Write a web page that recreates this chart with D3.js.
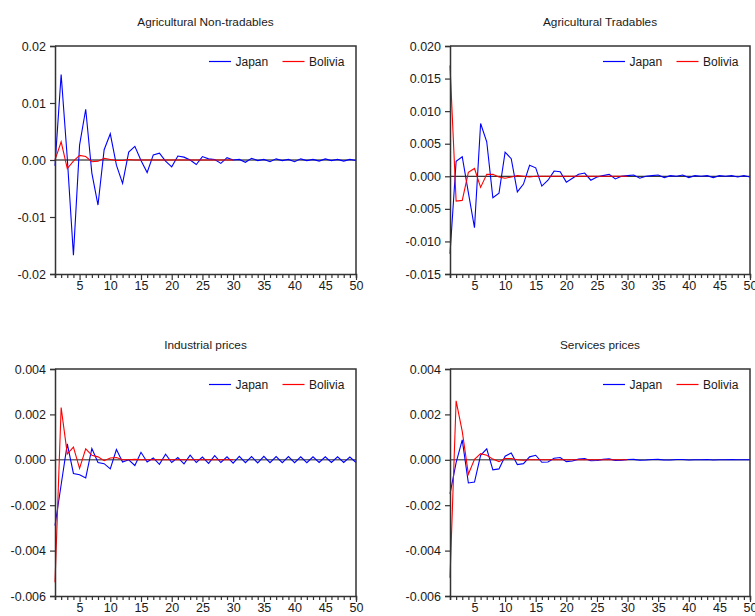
<!DOCTYPE html>
<html>
<head>
<meta charset="utf-8">
<script src="https://cdn.jsdelivr.net/npm/d3@7"></script>
<style>
  html, body { margin: 0; padding: 0; background: #fff; }
  svg { display: block; font-family: "Liberation Sans", Arial, sans-serif; }
</style>
</head>
<body>
<svg id="chart" width="755" height="616"></svg>
<script>
// ---------- data ----------
const seriesNames = ["Japan", "Bolivia"];
const panelTitles = ["Agricultural Non-tradables", "Agricultural Tradables", "Industrial prices", "Services prices"];
const xTickLabels = [5, 10, 15, 20, 25, 30, 35, 40, 45, 50];

const yTicksNonTradables = [-0.02, -0.01, 0.00, 0.01, 0.02];
const yTicksTradables = [-0.015, -0.010, -0.005, 0.000, 0.005, 0.010, 0.015, 0.020];
const yTicksIndustrial = [-0.006, -0.004, -0.002, 0.000, 0.002, 0.004];
const yTicksServices = [-0.006, -0.004, -0.002, 0.000, 0.002, 0.004];

const japanNonTradables = [
  -0.0010, 0.0150, 0.0003, -0.0167, 0.0026, 0.0089, -0.0023, -0.0079, 0.0018, 0.0046,
  -0.0009, -0.0041, 0.0014, 0.0024, -0.0001, -0.0022, 0.0009, 0.0012, -0.0002, -0.0012,
  0.0007, 0.0005, 0.0000, -0.0008, 0.0006, 0.0002, 0.0001, -0.0006, 0.0004, 0.0000,
  0.0001, -0.0004, 0.0003, -0.0001, 0.0001, -0.0003, 0.0002, -0.0001, 0.0001, -0.0003,
  0.0002, -0.0001, 0.0001, -0.0002, 0.0002, -0.0001, 0.0001, -0.0002, 0.0001, -0.0001
];
const boliviaNonTradables = [
  0.0000, 0.0032, -0.0015, -0.0002, 0.0008, 0.0006, -0.0003, -0.0002, 0.0003, 0.0001,
  -0.0001, -0.0001, 0.0001, 0.0000, 0.0000, 0.0000, 0.0000, 0.0000, 0.0000, 0.0000,
  0.0000, 0.0000, 0.0000, 0.0000, 0.0000, 0.0000, 0.0000, 0.0000, 0.0000, 0.0000
];

const japanTradables = [
  -0.0119, 0.0023, 0.0030, -0.0025, -0.0079, 0.0081, 0.0053, -0.0033, -0.0026, 0.0037,
  0.0027, -0.0024, -0.0012, 0.0017, 0.0013, -0.0015, -0.0006, 0.0008, 0.0007, -0.0009,
  -0.0003, 0.0003, 0.0005, -0.0006, -0.0001, 0.0001, 0.0003, -0.0004, 0.0000, 0.0001,
  0.0002, -0.0003, 0.0000, 0.0001, 0.0002, -0.0002, 0.0001, 0.0000, 0.0002, -0.0002,
  0.0001, 0.0000, 0.0001, -0.0002, 0.0001, 0.0000, 0.0001, -0.0001, 0.0001, -0.0001
];
const boliviaTradables = [
  0.0170, -0.0038, -0.0037, 0.0006, 0.0012, -0.0017, 0.0003, 0.0003, -0.0001, -0.0003,
  -0.0001, 0.0001, 0.0000, -0.0001, 0.0000, 0.0000, 0.0000, 0.0000, 0.0000, 0.0000,
  0.0000, 0.0000, 0.0000, 0.0000, 0.0000, 0.0000, 0.0000, 0.0000, 0.0000, 0.0000
];

const japanIndustrial = [
  -0.00290, -0.00110, 0.00070, -0.00060, -0.00066, -0.00080, 0.00050, -0.00012, -0.00017, -0.00040,
  0.00045, -0.00010, 0.00000, -0.00025, 0.00033, -0.00010, 0.00008, -0.00020, 0.00025, -0.00012,
  0.00010, -0.00018, 0.00020, -0.00012, 0.00012, -0.00016, 0.00018, -0.00012, 0.00013, -0.00015,
  0.00015, -0.00013, 0.00014, -0.00014, 0.00015, -0.00013, 0.00014, -0.00013, 0.00014, -0.00013,
  0.00013, -0.00013, 0.00013, -0.00012, 0.00013, -0.00012, 0.00013, -0.00012, 0.00012, -0.00012
];
const boliviaIndustrial = [
  -0.00540, 0.00230, 0.00026, 0.00056, -0.00038, 0.00048, 0.00020, 0.00013, -0.00004, 0.00008,
  0.00010, 0.00000, 0.00000, 0.00002, 0.00000, 0.00000, 0.00000, 0.00000, 0.00000, 0.00000,
  0.00000, 0.00000, 0.00000, 0.00000, 0.00000, 0.00000, 0.00000, 0.00000, 0.00000, 0.00000
];

const japanServices = [
  -0.00150, -0.00012, 0.00088, -0.00102, -0.00098, 0.00020, 0.00048, -0.00044, -0.00040, 0.00016,
  0.00030, -0.00021, -0.00017, 0.00013, 0.00020, -0.00011, -0.00010, 0.00007, 0.00010, -0.00008,
  -0.00005, 0.00003, 0.00006, -0.00004, -0.00003, 0.00002, 0.00004, -0.00003, -0.00002, 0.00001,
  0.00002, -0.00002, -0.00001, 0.00001, 0.00002, -0.00001, -0.00001, 0.00001, 0.00001, -0.00001,
  0.00000, 0.00000, 0.00001, -0.00001, 0.00000, 0.00000, 0.00001, 0.00000, 0.00000, 0.00000
];
const boliviaServices = [
  -0.00520, 0.00260, 0.00125, -0.00063, 0.00002, 0.00027, 0.00020, 0.00003, -0.00008, 0.00006,
  0.00006, 0.00000, -0.00002, 0.00000, 0.00000, 0.00000, 0.00000, 0.00000, 0.00000, 0.00000,
  0.00000, 0.00000, 0.00000, 0.00000, 0.00000, 0.00000, 0.00000, 0.00000, 0.00000, 0.00000
];

// ---------- layout / style (not data) ----------
const colors = { Japan: "#0000ff", Bolivia: "#ff0000" };
const panels = [
  { title: panelTitles[0], japan: japanNonTradables, bolivia: boliviaNonTradables, ticks: yTicksNonTradables,
    fmt: ".2f", box: { l: 55, r: 356, t: 46, b: 274 }, zero: "#000000", zeroW: 1 },
  { title: panelTitles[1], japan: japanTradables, bolivia: boliviaTradables, ticks: yTicksTradables,
    fmt: ".3f", box: { l: 450, r: 750, t: 46, b: 274 }, zero: "#000000", zeroW: 1 },
  { title: panelTitles[2], japan: japanIndustrial, bolivia: boliviaIndustrial, ticks: yTicksIndustrial,
    fmt: ".3f", box: { l: 55, r: 356, t: 369, b: 596 }, zero: "#6a6a6a", zeroW: 1.5 },
  { title: panelTitles[3], japan: japanServices, bolivia: boliviaServices, ticks: yTicksServices,
    fmt: ".3f", box: { l: 450, r: 750, t: 369, b: 596 }, zero: "#6a6a6a", zeroW: 1.5 }
];

const svg = d3.select("#chart");
const frameColor = "#333333";
const textColor = "#1a1a1a";

panels.forEach(p => {
  const { l, r, t, b } = p.box;
  const x = d3.scaleLinear().domain([1, 50]).range([l, r]);
  const y = d3.scaleLinear().domain(d3.extent(p.ticks)).range([b, t]);
  const g = svg.append("g");
  const baseFmt = d3.format(p.fmt);
  const fmt = d => baseFmt(d).replace("\u2212", "-");

  // title
  g.append("text")
    .attr("x", (l + r) / 2).attr("y", t - 20)
    .attr("text-anchor", "middle")
    .attr("font-size", 11.8).attr("fill", textColor)
    .text(p.title);

  // zero line
  g.append("line")
    .attr("x1", l).attr("x2", r).attr("y1", y(0)).attr("y2", y(0))
    .attr("stroke", p.zero).attr("stroke-width", p.zeroW);

  // series lines
  const line = d3.line().x((d, i) => x(i + 1)).y(d => y(d));
  g.append("path").datum(p.japan)
    .attr("d", line).attr("fill", "none")
    .attr("stroke", colors.Japan).attr("stroke-width", 1.1).attr("stroke-linejoin", "miter");
  g.append("path").datum(p.bolivia)
    .attr("d", line).attr("fill", "none")
    .attr("stroke", colors.Bolivia).attr("stroke-width", 1.1).attr("stroke-linejoin", "miter");

  // top & right frame
  g.append("path")
    .attr("d", `M${l},${t}H${r}V${b}`)
    .attr("fill", "none").attr("stroke", frameColor).attr("stroke-width", 1.5);

  // y axis
  const yAxis = d3.axisLeft(y).tickValues(p.ticks).tickFormat(fmt)
    .tickSize(5).tickPadding(4);
  const ya = g.append("g").attr("transform", `translate(${l},0)`).call(yAxis);
  ya.select(".domain").attr("stroke", frameColor).attr("stroke-width", 1.5);
  ya.selectAll(".tick line").attr("stroke", frameColor).attr("stroke-width", 1.2);
  ya.selectAll(".tick text").attr("font-size", 12.5).attr("fill", textColor)
    .attr("font-family", "Liberation Sans, Arial, sans-serif");

  // x axis: minor ticks every period, labels at multiples of 5
  const xAxis = d3.axisBottom(x).tickValues(d3.range(1, 51))
    .tickFormat(d => xTickLabels.includes(d) ? d : "")
    .tickSize(4).tickPadding(3);
  const xa = g.append("g").attr("transform", `translate(0,${b})`).call(xAxis);
  xa.select(".domain").attr("stroke", frameColor).attr("stroke-width", 1.5);
  xa.selectAll(".tick line").attr("stroke", frameColor).attr("stroke-width", 1.2)
    .attr("y2", d => xTickLabels.includes(d) ? 6 : 4);
  xa.selectAll(".tick text").attr("font-size", 12.5).attr("fill", textColor)
    .attr("font-family", "Liberation Sans, Arial, sans-serif");

  // legend
  const ly = t + 15.5;
  const legendItems = [
    { name: seriesNames[0], x0: r - 147 },
    { name: seriesNames[1], x0: r - 73.5 }
  ];
  legendItems.forEach(it => {
    g.append("line")
      .attr("x1", it.x0).attr("x2", it.x0 + 22).attr("y1", ly).attr("y2", ly)
      .attr("stroke", colors[it.name]).attr("stroke-width", 1.2);
    g.append("text")
      .attr("x", it.x0 + 26.5).attr("y", ly + 4.3)
      .attr("font-size", 12).attr("fill", textColor)
      .text(it.name);
  });
});
</script>
</body>
</html>
